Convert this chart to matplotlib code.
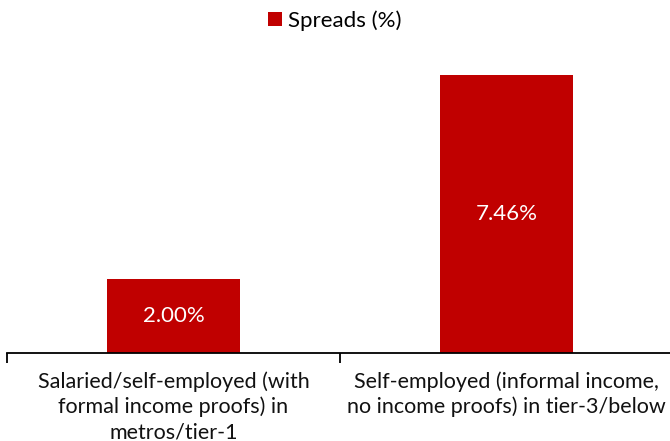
import matplotlib.pyplot as plt

categories = [
    "Salaried/self-employed (with\nformal income proofs) in\nmetros/tier-1",
    "Self-employed (informal income,\nno income proofs) in tier-3/below",
]
spreads = [2.00, 7.46]
series_name = "Spreads (%)"

RED = "#C00000"

plt.rcParams["font.family"] = ["Lato", "DejaVu Sans"]

fig = plt.figure(figsize=(6.7, 4.41), dpi=100)
ax = fig.add_axes([7 / 670, 88 / 441, 666 / 670, 298 / 441])

x = list(range(len(categories)))
bars = ax.bar(x, spreads, width=0.4, color=RED, label=series_name)
ax.bar_label(bars, labels=[f"{v:.2f}%" for v in spreads], label_type="center",
             color="white", fontsize=16)

ax.set_xlim(-0.5, len(categories) - 0.5)
ax.set_ylim(0, 8)

for side in ("top", "right", "left"):
    ax.spines[side].set_visible(False)
ax.spines["bottom"].set_linewidth(1.3)
ax.yaxis.set_visible(False)

ax.set_xticks(x)
ax.set_xticklabels(categories, fontsize=15.5, color="#111111", linespacing=1.3)
ax.tick_params(axis="x", which="major", length=0, pad=13)
ax.set_xticks([i - 0.5 for i in range(len(categories) + 1)], minor=True)
ax.tick_params(axis="x", which="minor", length=7, width=1.3, direction="out")

fig.legend(loc="upper center", bbox_to_anchor=(0.5, 1.0), frameon=False,
           handlelength=0.6, handleheight=0.6, handletextpad=0.3, fontsize=16,
           borderaxespad=0.05)

fig.savefig("out.png", dpi=100)
